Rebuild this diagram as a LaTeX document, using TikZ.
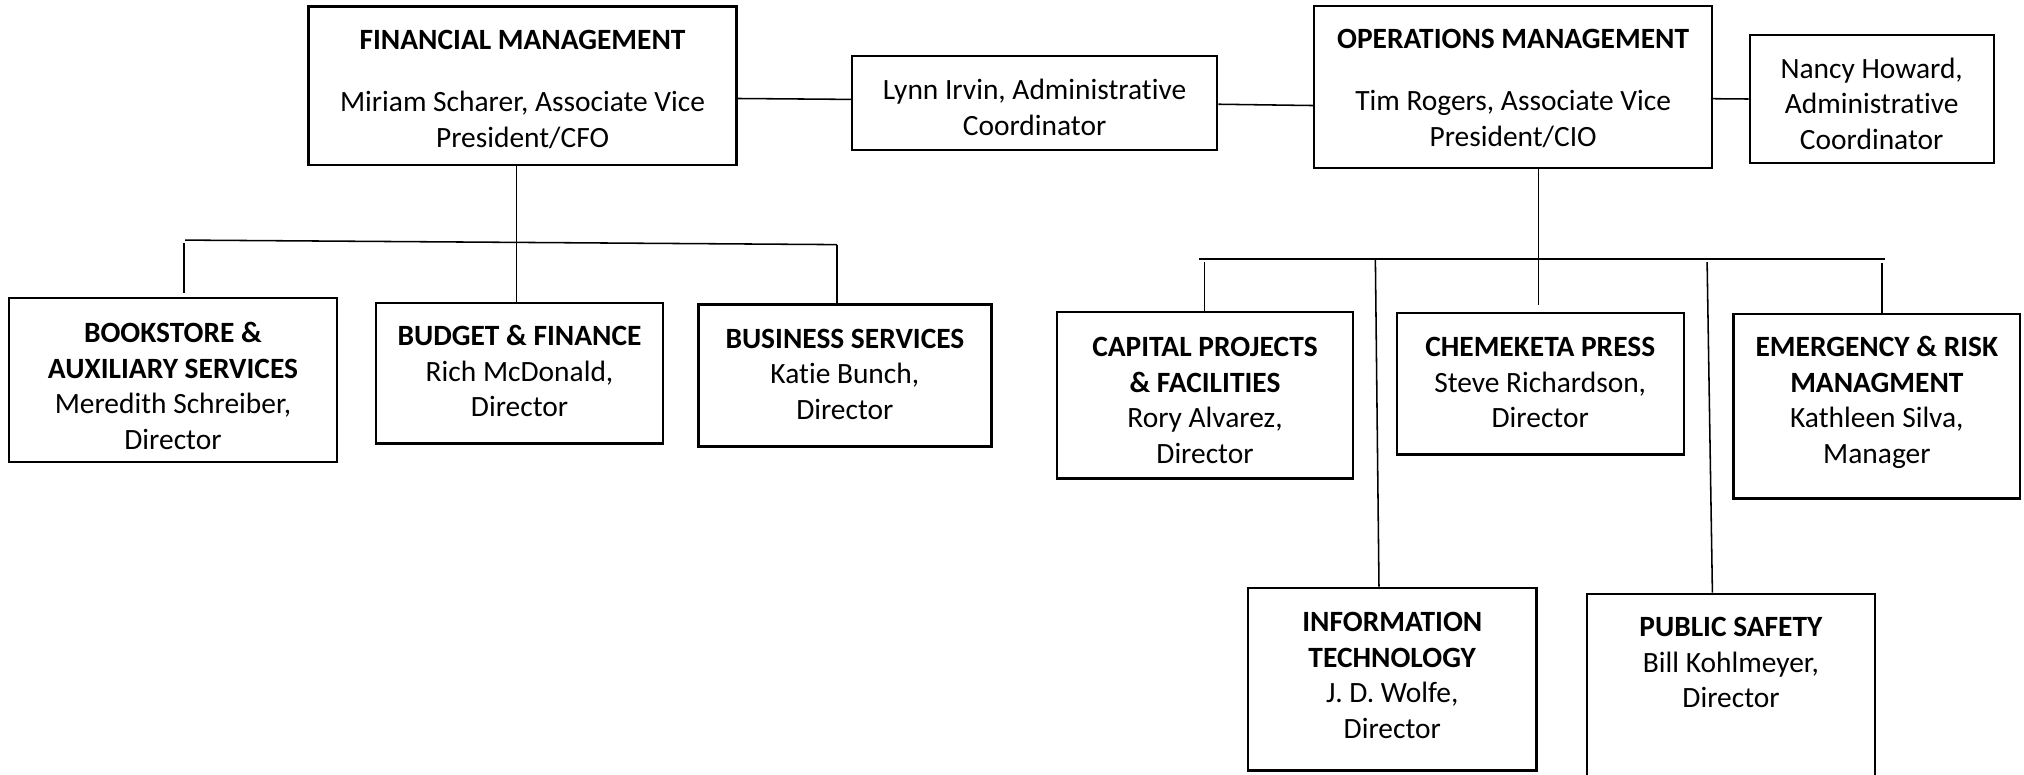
\documentclass[tikz,border=0pt]{standalone}
\usepackage{fontspec}
\setmainfont{Carlito}[Ligatures=NoCommon]
\usetikzlibrary{fit}
\newcommand\fs{\rule{0pt}{16.5pt}}
\begin{document}
\begin{tikzpicture}[x=1pt,y=-1pt,
 box/.style={draw=black, line width=1.8pt, inner sep=0pt},
 txt/.style={anchor=north, align=center, inner sep=0pt, font=\fontsize{22.8}{27.6}\selectfont},
 conn/.style={draw=black, line width=1.2pt}]
\useasboundingbox[fill=white] (0,0) rectangle (1568,600);
\clip (0,0) rectangle (1568,600);

% boxes
\node[box, fit={(239,5) (570.5,128)}] (fin) {};
\node[box, fit={(660,43.5) (943,116)}] (lynn) {};
\node[box, fit={(1018,4.5) (1326.5,130)}] (ops) {};
\node[box, fit={(1355.5,27) (1544.5,126.4)}] (nancy) {};
\node[box, fit={(7,231) (261,358)}] (book) {};
\node[box, fit={(291.5,234.5) (513.5,343.5)}] (budget) {};
\node[box, fit={(541,236) (768,346)}] (bus) {};
\node[box, fit={(819,241.7) (1048,370.7)}] (cap) {};
\node[box, fit={(1082,242.5) (1304.5,352.2)}] (chem) {};
\node[box, fit={(1343,243.3) (1565,386.2)}] (emr) {};
\node[box, fit={(967,455.3) (1190.3,597)}] (it) {};
\node[box, fit={(1229.5,460) (1452.7,620)}] (ps) {};

% texts
\node[txt] (fint) at (404.8,22.0) {\fs\textbf{FINANCIAL MANAGEMENT}\\[20pt]Miriam Scharer, Associate Vice\\President/CFO};
\node[txt] (lynnt) at (801.5,60.7) {\fs Lynn Irvin, Administrative\\Coordinator};
\node[txt] (opst) at (1172.2,21.2) {\fs\textbf{OPERATIONS MANAGEMENT}\\[20.2pt]Tim Rogers, Associate Vice\\President/CIO};
\node[txt] (nancyt) at (1450,44) {\fs Nancy Howard,\\Administrative\\Coordinator};
\node[txt] (bookt) at (134,248.7) {\fs\textbf{BOOKSTORE \&}\\\textbf{AUXILIARY SERVICES}\\Meredith Schreiber,\\Director};
\node[txt] (budgett) at (402.5,251) {\fs\textbf{BUDGET \& FINANCE}\\Rich McDonald,\\Director};
\node[txt] (bust) at (654.5,253) {\fs\textbf{BUSINESS SERVICES}\\Katie Bunch,\\Director};
\node[txt] (capt) at (933.5,259.4) {\fs\textbf{CAPITAL PROJECTS}\\\textbf{\& FACILITIES}\\Rory Alvarez,\\Director};
\node[txt] (chemt) at (1193.2,259.4) {\fs\textbf{CHEMEKETA PRESS}\\Steve Richardson,\\Director};
\node[txt] (emrt) at (1454,259.4) {\fs\textbf{EMERGENCY \& RISK}\\\textbf{MANAGMENT}\\Kathleen Silva,\\Manager};
\node[txt] (itt) at (1078.6,472.6) {\fs\textbf{INFORMATION}\\\textbf{TECHNOLOGY}\\J. D. Wolfe,\\Director};
\node[txt] (pst) at (1341,476.5) {\fs\textbf{PUBLIC SAFETY}\\Bill Kohlmeyer,\\Director};

% top-level side connectors
\draw[conn] ([yshift=-9.8pt]fin.east) -- ([yshift=2.75pt]lynn.west);
\draw[conn] ([yshift=-1pt]lynn.east) -- ([yshift=-14.5pt]ops.west);
\draw[conn] ([yshift=-9.2pt,xshift=-2pt]ops.east) -- (nancy.west);

% financial tree
\coordinate (fb1) at (143.5,186);
\coordinate (fb2) at (648.5,189.5);
\coordinate (fd1) at (142.5,188);
\draw[conn] ([xshift=-2.5pt]budget.north) -- ([xshift=-2.5pt]budget.north |- fin.south);
\draw[conn] (fb1) -- (fb2);
\draw[conn] (fd1) -- ([yshift=3pt]fd1 |- book.north);
\draw[conn] (fb2) -- (fb2 |- bus.north);

% operations tree
\coordinate (ov) at (1192,130.5);
\coordinate (ob1) at (929,200.5);
\coordinate (ob2) at (1460,200.5);
\coordinate (cd) at (933,203);
\coordinate (id) at (1065.5,200.5);
\coordinate (pd) at (1322.5,203);
\coordinate (ed) at (1458,204);
\draw[conn] (ov) -- ([yshift=5pt]ov |- chem.north);
\draw[conn] (ob1) -- (ob2);
\draw[conn] (cd) -- (cd |- cap.north);
\draw[conn] (id) -- ([xshift=-10.35pt]it.north);
\draw[conn] (pd) -- ([xshift=-14.5pt]ps.north);
\draw[conn] (ed) -- (ed |- emr.north);
\end{tikzpicture}
\end{document}
